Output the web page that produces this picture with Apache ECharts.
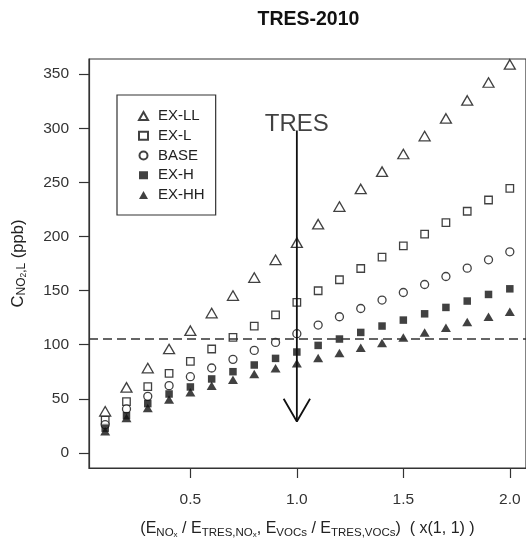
<!DOCTYPE html>
<html>
<head>
<meta charset="utf-8">
<script src="https://cdn.jsdelivr.net/npm/echarts@6/dist/echarts.min.js"></script>
<style>
html,body{margin:0;padding:0;background:#fff;}
#chart{width:526px;height:549px;}
</style>
</head>
<body>
<div id="chart"></div>
<script>
// ---- data ----
const xValues = [0.1,0.2,0.3,0.4,0.5,0.6,0.7,0.8,0.9,1.0,1.1,1.2,1.3,1.4,1.5,1.6,1.7,1.8,1.9,2.0];
const exLL = [38.4,60.5,78.4,96.0,112.9,129.2,145.4,162.0,178.4,194.3,211.3,227.6,243.9,259.9,276.2,292.8,309.1,325.7,342.3,359.0];
const exL  = [30.3,47.3,61.2,73.5,84.5,96.0,106.7,117.2,127.6,139.0,149.8,160.0,170.4,180.9,191.3,202.1,212.8,223.3,233.7,244.5];
const base = [26.0,40.6,52.2,62.1,70.4,78.4,86.4,94.7,102.1,110.1,118.1,125.8,133.4,141.2,148.2,155.6,163.0,170.7,178.4,185.8];
const exH  = [22.8,34.4,45.5,54.4,60.9,68.3,75.0,81.2,87.3,93.2,99.3,105.2,111.3,117.2,122.7,128.5,134.4,140.3,146.4,151.6];
const exHH = [19.9,32.3,41.5,49.2,55.9,62.1,67.6,72.9,78.1,82.7,87.7,92.3,97.2,101.5,106.7,111.3,115.6,120.9,125.8,130.4];
const seriesNames = ['EX-LL','EX-L','BASE','EX-H','EX-HH'];
const yTicks = [0,50,100,150,200,250,300,350];
const xTicks = [0.5,1.0,1.5,2.0];
const thresholdY = 105.2;
const arrowX = 1.0, arrowTopY = 298, arrowTipY = 29, arrowWingY = 50, arrowWingHalf = 0.062;
const tresLabelY = 304;

const pairs = arr => xValues.map((x,i)=>[x, arr[i]]);
const FONT = 'Liberation Sans, Arial, Helvetica, sans-serif';
const INK = '#111';

const openStyle = {color:'#fff', borderColor:INK, borderWidth:1.3};
const fillStyle = {color:INK, borderColor:INK, borderWidth:0};

const chart = echarts.init(document.getElementById('chart'), null, {renderer:'canvas'});
chart.setOption({
  animation:false,
  backgroundColor:'#fff',
  title:{
    text:'TRES-2010', left:252.5, top:5, padding:5,
    textStyle:{fontFamily:FONT, fontSize:19.5, fontWeight:'bold', color:'#111'}
  },
  legend:{
    orient:'vertical', left:117, top:95,
    padding:[13,11,12,21],
    itemGap:3.75, itemWidth:9, itemHeight:8,
    borderColor:'#333', borderWidth:1.2, backgroundColor:'#fff',
    textStyle:{fontFamily:FONT, fontSize:15, color:'#222', lineHeight:16, padding:[0,0,0,5]},
    data:[
      {name:seriesNames[0], icon:'triangle'},
      {name:seriesNames[1], icon:'rect'},
      {name:seriesNames[2], icon:'circle'},
      {name:seriesNames[3], icon:'rect'},
      {name:seriesNames[4], icon:'triangle'}
    ]
  },
  grid:{left:89, right:-2, top:59, bottom:81, show:true, borderColor:'#333', borderWidth:1.2, backgroundColor:'transparent'},
  xAxis:{
    type:'value', min:0.024, max:2.076,
    axisLine:{show:true, onZero:false, lineStyle:{color:'#333', width:1.2}},
    axisTick:{show:true, inside:false, length:10, customValues:xTicks, lineStyle:{color:'#333', width:1.2}},
    axisLabel:{customValues:xTicks, margin:24, formatter:v=>v.toFixed(1), fontFamily:FONT, fontSize:15.5, color:'#333'},
    splitLine:{show:false},
    name:'(E{s|NO}{ss|x} / E{s|TRES,NO}{ss|x}, E{s|VOCs} / E{s|TRES,VOCs})  ( x(1, 1) )',
    nameLocation:'middle', nameGap:51,
    nameTextStyle:{
      fontFamily:FONT, fontSize:16, color:'#222', lineHeight:20,
      rich:{
        s:{fontFamily:FONT, fontSize:11.5, color:'#222', lineHeight:10, verticalAlign:'bottom'},
        ss:{fontFamily:FONT, fontSize:8, color:'#222', lineHeight:7, verticalAlign:'bottom'}
      }
    }
  },
  yAxis:{
    type:'value', min:-14, max:364,
    axisLine:{show:true, onZero:false, lineStyle:{color:'#333', width:1.2}},
    axisTick:{show:true, inside:false, length:10, customValues:yTicks, lineStyle:{color:'#333', width:1.2}},
    axisLabel:{customValues:yTicks, margin:20, fontFamily:FONT, fontSize:15.5, color:'#333'},
    splitLine:{show:false},
    name:'C{s|NO}{ss|2}{s|,L} (ppb)',
    nameLocation:'middle', nameGap:61,
    nameTextStyle:{
      fontFamily:FONT, fontSize:16.5, color:'#222', lineHeight:20,
      rich:{
        s:{fontFamily:FONT, fontSize:12, color:'#222', lineHeight:10, verticalAlign:'bottom'},
        ss:{fontFamily:FONT, fontSize:8.5, color:'#222', lineHeight:7, verticalAlign:'bottom'}
      }
    }
  },
  series:[
    {name:seriesNames[0], type:'scatter', symbol:'triangle', symbolSize:[11,9.5], itemStyle:openStyle, data:pairs(exLL), z:3},
    {name:seriesNames[1], type:'scatter', symbol:'rect', symbolSize:7.5, itemStyle:openStyle, data:pairs(exL), z:3},
    {name:seriesNames[2], type:'scatter', symbol:'circle', symbolSize:8, itemStyle:openStyle, data:pairs(base), z:3},
    {name:seriesNames[3], type:'scatter', symbol:'rect', symbolSize:7.5, itemStyle:fillStyle, data:pairs(exH), z:3},
    {name:seriesNames[4], type:'scatter', symbol:'triangle', symbolSize:[10,8.5], itemStyle:fillStyle, data:pairs(exHH), z:3},
    {
      name:'arrow', type:'line', symbol:'none', silent:true, z:4,
      lineStyle:{color:INK, width:1.8},
      data:[[arrowX, arrowTopY],[arrowX, arrowTipY]],
      markLine:{
        silent:true, symbol:['none','none'],
        label:{show:false},
        lineStyle:{color:'#333', width:1.5, type:[9,5]},
        data:[{yAxis:thresholdY}]
      }
    },
    {
      name:'arrowhead', type:'line', symbol:'none', silent:true, z:4,
      lineStyle:{color:INK, width:1.8},
      data:[[arrowX-arrowWingHalf, arrowWingY],[arrowX, arrowTipY],[arrowX+arrowWingHalf, arrowWingY]]
    },
    {
      name:'tres', type:'scatter', symbolSize:0, silent:true, z:5,
      data:[[arrowX, tresLabelY]],
      label:{show:true, position:'inside', formatter:'TRES', fontFamily:FONT, fontSize:24, color:'#111'}
    }
  ]
});
</script>
</body>
</html>
